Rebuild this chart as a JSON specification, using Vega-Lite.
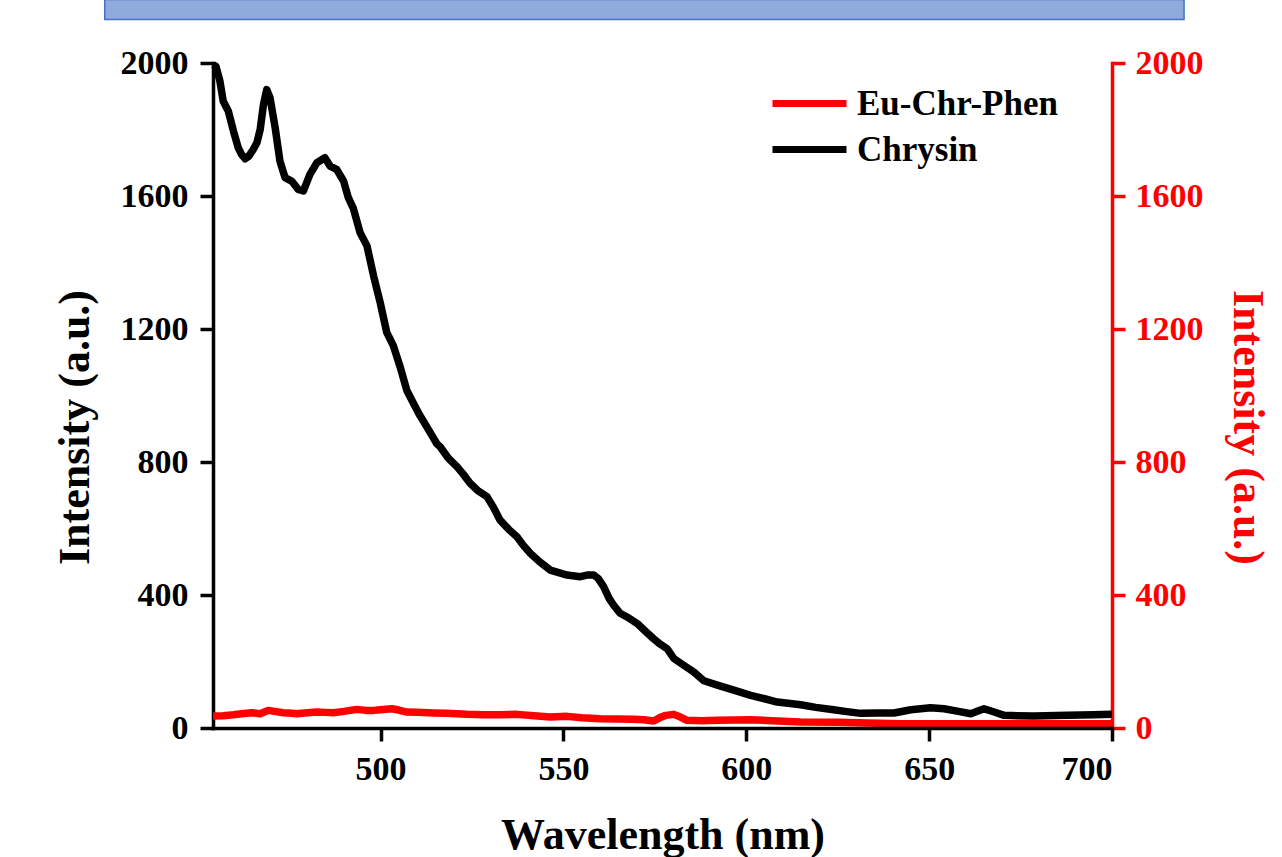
{
  "$schema": "https://vega.github.io/schema/vega-lite/v6.json",
  "width": 899,
  "height": 665,
  "autosize": {"type": "none"},
  "padding": {"left": 213, "top": 63, "right": 170, "bottom": 129},
  "background": "white",
  "config": {
    "view": {"stroke": null},
    "font": "Liberation Serif",
    "axis": {
      "grid": false,
      "labelFont": "Liberation Serif",
      "labelFontWeight": "bold",
      "labelFontSize": 34,
      "titleFont": "Liberation Serif",
      "titleFontWeight": "bold",
      "titleFontSize": 44,
      "domainWidth": 3.5,
      "tickWidth": 3.5,
      "tickSize": 13,
      "domainCap": "square",
      "format": "d"
    }
  },
  "datasets": {
    "spectra": [
      {"series": "Chrysin", "wavelength": 454.2, "intensity": 1995},
      {"series": "Chrysin", "wavelength": 455.0, "intensity": 1990},
      {"series": "Chrysin", "wavelength": 456.1, "intensity": 1945},
      {"series": "Chrysin", "wavelength": 457.0, "intensity": 1885},
      {"series": "Chrysin", "wavelength": 458.4, "intensity": 1855},
      {"series": "Chrysin", "wavelength": 459.8, "intensity": 1795},
      {"series": "Chrysin", "wavelength": 461.1, "intensity": 1745},
      {"series": "Chrysin", "wavelength": 462.0, "intensity": 1725},
      {"series": "Chrysin", "wavelength": 463.0, "intensity": 1712},
      {"series": "Chrysin", "wavelength": 464.0, "intensity": 1720},
      {"series": "Chrysin", "wavelength": 465.2, "intensity": 1740},
      {"series": "Chrysin", "wavelength": 466.2, "intensity": 1760},
      {"series": "Chrysin", "wavelength": 467.1, "intensity": 1800},
      {"series": "Chrysin", "wavelength": 468.0, "intensity": 1875},
      {"series": "Chrysin", "wavelength": 468.9, "intensity": 1920},
      {"series": "Chrysin", "wavelength": 469.8, "intensity": 1895},
      {"series": "Chrysin", "wavelength": 470.5, "intensity": 1850},
      {"series": "Chrysin", "wavelength": 471.2, "intensity": 1805},
      {"series": "Chrysin", "wavelength": 472.5, "intensity": 1705},
      {"series": "Chrysin", "wavelength": 473.9, "intensity": 1655},
      {"series": "Chrysin", "wavelength": 475.7, "intensity": 1645},
      {"series": "Chrysin", "wavelength": 477.5, "intensity": 1620},
      {"series": "Chrysin", "wavelength": 478.9, "intensity": 1615},
      {"series": "Chrysin", "wavelength": 480.7, "intensity": 1665},
      {"series": "Chrysin", "wavelength": 482.6, "intensity": 1700},
      {"series": "Chrysin", "wavelength": 484.8, "intensity": 1715},
      {"series": "Chrysin", "wavelength": 486.2, "intensity": 1690},
      {"series": "Chrysin", "wavelength": 488.0, "intensity": 1680},
      {"series": "Chrysin", "wavelength": 489.9, "intensity": 1645},
      {"series": "Chrysin", "wavelength": 491.2, "intensity": 1595},
      {"series": "Chrysin", "wavelength": 492.6, "intensity": 1562},
      {"series": "Chrysin", "wavelength": 494.4, "intensity": 1490},
      {"series": "Chrysin", "wavelength": 496.3, "intensity": 1450},
      {"series": "Chrysin", "wavelength": 498.1, "intensity": 1360},
      {"series": "Chrysin", "wavelength": 499.9, "intensity": 1280},
      {"series": "Chrysin", "wavelength": 501.7, "intensity": 1190},
      {"series": "Chrysin", "wavelength": 503.5, "intensity": 1150},
      {"series": "Chrysin", "wavelength": 505.4, "intensity": 1085},
      {"series": "Chrysin", "wavelength": 507.2, "intensity": 1015},
      {"series": "Chrysin", "wavelength": 509.0, "intensity": 977},
      {"series": "Chrysin", "wavelength": 510.5, "intensity": 945},
      {"series": "Chrysin", "wavelength": 512.7, "intensity": 905},
      {"series": "Chrysin", "wavelength": 515.4, "intensity": 855},
      {"series": "Chrysin", "wavelength": 516.3, "intensity": 846},
      {"series": "Chrysin", "wavelength": 518.5, "intensity": 812},
      {"series": "Chrysin", "wavelength": 520.9, "intensity": 786},
      {"series": "Chrysin", "wavelength": 522.5, "intensity": 765},
      {"series": "Chrysin", "wavelength": 524.5, "intensity": 736},
      {"series": "Chrysin", "wavelength": 526.5, "intensity": 715},
      {"series": "Chrysin", "wavelength": 529.1, "intensity": 696},
      {"series": "Chrysin", "wavelength": 530.8, "intensity": 665},
      {"series": "Chrysin", "wavelength": 532.7, "intensity": 625},
      {"series": "Chrysin", "wavelength": 535.0, "intensity": 598},
      {"series": "Chrysin", "wavelength": 537.3, "intensity": 575},
      {"series": "Chrysin", "wavelength": 539.0, "intensity": 550},
      {"series": "Chrysin", "wavelength": 541.0, "intensity": 525},
      {"series": "Chrysin", "wavelength": 543.5, "intensity": 500},
      {"series": "Chrysin", "wavelength": 546.4, "intensity": 475},
      {"series": "Chrysin", "wavelength": 548.5, "intensity": 468},
      {"series": "Chrysin", "wavelength": 551.0, "intensity": 460},
      {"series": "Chrysin", "wavelength": 554.6, "intensity": 455},
      {"series": "Chrysin", "wavelength": 556.5, "intensity": 460},
      {"series": "Chrysin", "wavelength": 558.3, "intensity": 460},
      {"series": "Chrysin", "wavelength": 559.5, "intensity": 450},
      {"series": "Chrysin", "wavelength": 561.0, "intensity": 425},
      {"series": "Chrysin", "wavelength": 562.5, "intensity": 390},
      {"series": "Chrysin", "wavelength": 563.7, "intensity": 370},
      {"series": "Chrysin", "wavelength": 565.5, "intensity": 345},
      {"series": "Chrysin", "wavelength": 567.4, "intensity": 334},
      {"series": "Chrysin", "wavelength": 570.2, "intensity": 314},
      {"series": "Chrysin", "wavelength": 572.5, "intensity": 290},
      {"series": "Chrysin", "wavelength": 574.7, "intensity": 268},
      {"series": "Chrysin", "wavelength": 576.5, "intensity": 252},
      {"series": "Chrysin", "wavelength": 578.4, "intensity": 238},
      {"series": "Chrysin", "wavelength": 580.2, "intensity": 209},
      {"series": "Chrysin", "wavelength": 583.0, "intensity": 188},
      {"series": "Chrysin", "wavelength": 585.6, "intensity": 169},
      {"series": "Chrysin", "wavelength": 588.4, "intensity": 142},
      {"series": "Chrysin", "wavelength": 592.1, "intensity": 129},
      {"series": "Chrysin", "wavelength": 596.6, "intensity": 114},
      {"series": "Chrysin", "wavelength": 601.2, "intensity": 98},
      {"series": "Chrysin", "wavelength": 605.0, "intensity": 88},
      {"series": "Chrysin", "wavelength": 608.5, "intensity": 78},
      {"series": "Chrysin", "wavelength": 614.9, "intensity": 70},
      {"series": "Chrysin", "wavelength": 619.0, "intensity": 62},
      {"series": "Chrysin", "wavelength": 623.9, "intensity": 55},
      {"series": "Chrysin", "wavelength": 627.0, "intensity": 50},
      {"series": "Chrysin", "wavelength": 631.3, "intensity": 44},
      {"series": "Chrysin", "wavelength": 636.0, "intensity": 45},
      {"series": "Chrysin", "wavelength": 640.4, "intensity": 45},
      {"series": "Chrysin", "wavelength": 645.0, "intensity": 55},
      {"series": "Chrysin", "wavelength": 650.4, "intensity": 61},
      {"series": "Chrysin", "wavelength": 654.1, "intensity": 58},
      {"series": "Chrysin", "wavelength": 658.0, "intensity": 50},
      {"series": "Chrysin", "wavelength": 661.4, "intensity": 43},
      {"series": "Chrysin", "wavelength": 663.5, "intensity": 52},
      {"series": "Chrysin", "wavelength": 665.0, "intensity": 58},
      {"series": "Chrysin", "wavelength": 667.8, "intensity": 48},
      {"series": "Chrysin", "wavelength": 670.5, "intensity": 38},
      {"series": "Chrysin", "wavelength": 678.7, "intensity": 36},
      {"series": "Chrysin", "wavelength": 687.8, "intensity": 38},
      {"series": "Chrysin", "wavelength": 695.0, "intensity": 40},
      {"series": "Chrysin", "wavelength": 700.0, "intensity": 41},
      {"series": "Eu-Chr-Phen", "wavelength": 454.2, "intensity": 36},
      {"series": "Eu-Chr-Phen", "wavelength": 457.0, "intensity": 37},
      {"series": "Eu-Chr-Phen", "wavelength": 459.8, "intensity": 40},
      {"series": "Eu-Chr-Phen", "wavelength": 462.0, "intensity": 43},
      {"series": "Eu-Chr-Phen", "wavelength": 464.8, "intensity": 46},
      {"series": "Eu-Chr-Phen", "wavelength": 467.1, "intensity": 43},
      {"series": "Eu-Chr-Phen", "wavelength": 469.3, "intensity": 53},
      {"series": "Eu-Chr-Phen", "wavelength": 471.0, "intensity": 50},
      {"series": "Eu-Chr-Phen", "wavelength": 473.4, "intensity": 46},
      {"series": "Eu-Chr-Phen", "wavelength": 475.0, "intensity": 45},
      {"series": "Eu-Chr-Phen", "wavelength": 477.1, "intensity": 43},
      {"series": "Eu-Chr-Phen", "wavelength": 480.0, "intensity": 46},
      {"series": "Eu-Chr-Phen", "wavelength": 482.6, "intensity": 48},
      {"series": "Eu-Chr-Phen", "wavelength": 485.0, "intensity": 47},
      {"series": "Eu-Chr-Phen", "wavelength": 487.1, "intensity": 46},
      {"series": "Eu-Chr-Phen", "wavelength": 490.0, "intensity": 50},
      {"series": "Eu-Chr-Phen", "wavelength": 493.5, "intensity": 56},
      {"series": "Eu-Chr-Phen", "wavelength": 496.0, "intensity": 53},
      {"series": "Eu-Chr-Phen", "wavelength": 498.1, "intensity": 53},
      {"series": "Eu-Chr-Phen", "wavelength": 500.0, "intensity": 55},
      {"series": "Eu-Chr-Phen", "wavelength": 503.1, "intensity": 58},
      {"series": "Eu-Chr-Phen", "wavelength": 505.0, "intensity": 54},
      {"series": "Eu-Chr-Phen", "wavelength": 507.2, "intensity": 48},
      {"series": "Eu-Chr-Phen", "wavelength": 510.0, "intensity": 47},
      {"series": "Eu-Chr-Phen", "wavelength": 514.5, "intensity": 45},
      {"series": "Eu-Chr-Phen", "wavelength": 518.0, "intensity": 44},
      {"series": "Eu-Chr-Phen", "wavelength": 523.6, "intensity": 41},
      {"series": "Eu-Chr-Phen", "wavelength": 528.0, "intensity": 40},
      {"series": "Eu-Chr-Phen", "wavelength": 532.7, "intensity": 40},
      {"series": "Eu-Chr-Phen", "wavelength": 537.3, "intensity": 41},
      {"series": "Eu-Chr-Phen", "wavelength": 542.0, "intensity": 37},
      {"series": "Eu-Chr-Phen", "wavelength": 546.4, "intensity": 33},
      {"series": "Eu-Chr-Phen", "wavelength": 551.0, "intensity": 35},
      {"series": "Eu-Chr-Phen", "wavelength": 555.0, "intensity": 31},
      {"series": "Eu-Chr-Phen", "wavelength": 560.1, "intensity": 28},
      {"series": "Eu-Chr-Phen", "wavelength": 565.0, "intensity": 27},
      {"series": "Eu-Chr-Phen", "wavelength": 569.2, "intensity": 26},
      {"series": "Eu-Chr-Phen", "wavelength": 572.0, "intensity": 25},
      {"series": "Eu-Chr-Phen", "wavelength": 574.7, "intensity": 21},
      {"series": "Eu-Chr-Phen", "wavelength": 576.5, "intensity": 32},
      {"series": "Eu-Chr-Phen", "wavelength": 578.0, "intensity": 38},
      {"series": "Eu-Chr-Phen", "wavelength": 580.2, "intensity": 41},
      {"series": "Eu-Chr-Phen", "wavelength": 582.0, "intensity": 33},
      {"series": "Eu-Chr-Phen", "wavelength": 583.8, "intensity": 23},
      {"series": "Eu-Chr-Phen", "wavelength": 588.0, "intensity": 22},
      {"series": "Eu-Chr-Phen", "wavelength": 592.1, "intensity": 23},
      {"series": "Eu-Chr-Phen", "wavelength": 601.2, "intensity": 25},
      {"series": "Eu-Chr-Phen", "wavelength": 607.0, "intensity": 22},
      {"series": "Eu-Chr-Phen", "wavelength": 614.9, "intensity": 18},
      {"series": "Eu-Chr-Phen", "wavelength": 625.0, "intensity": 17},
      {"series": "Eu-Chr-Phen", "wavelength": 633.1, "intensity": 15},
      {"series": "Eu-Chr-Phen", "wavelength": 642.2, "intensity": 13},
      {"series": "Eu-Chr-Phen", "wavelength": 660.0, "intensity": 13},
      {"series": "Eu-Chr-Phen", "wavelength": 680.0, "intensity": 13},
      {"series": "Eu-Chr-Phen", "wavelength": 700.0, "intensity": 13}
    ]
  },
  "data": {"name": "spectra"},
  "layer": [
    {
      "mark": {"type": "line", "strokeWidth": 7.5, "strokeJoin": "round", "strokeCap": "butt"},
      "transform": [{"filter": "datum.series === 'Eu-Chr-Phen'"}],
      "encoding": {
        "x": {
          "field": "wavelength", "type": "quantitative",
          "scale": {"domain": [454.2, 700], "nice": false, "zero": false},
          "axis": {"values": [500, 550, 600, 650, 700], "title": "Wavelength (nm)", "labelPadding": 11, "titlePadding": 27, "domainColor": "#000000", "tickColor": "#000000", "labelColor": "#000000", "titleColor": "#000000", "zindex": 1}
        },
        "y": {
          "field": "intensity", "type": "quantitative",
          "scale": {"domain": [0, 2000], "nice": false},
          "axis": {"orient": "right", "values": [0, 400, 800, 1200, 1600, 2000], "title": "Intensity (a.u.)", "domainColor": "#ff0000", "tickColor": "#ff0000", "labelColor": "#ff0000", "titleColor": "#ff0000", "labelPadding": 10, "titlePadding": 21, "titleY": 364}
        },
        "color": {
          "field": "series", "type": "nominal",
          "scale": {"domain": ["Eu-Chr-Phen", "Chrysin"], "range": ["#ff0000", "#000000"]},
          "legend": {"title": null, "orient": "none", "legendX": 574.5, "legendY": 18.5, "padding": 0, "symbolType": "M-2,0H2", "symbolStrokeWidth": 7, "symbolSize": 1369, "labelFont": "Liberation Serif", "labelFontWeight": "bold", "labelFontSize": 35, "labelColor": "#000000", "labelOffset": 25.5, "labelLimit": 400, "rowPadding": 6}
        }
      }
    },
    {
      "mark": {"type": "line", "strokeWidth": 7.5, "strokeJoin": "round", "strokeCap": "butt"},
      "transform": [{"filter": "datum.series === 'Chrysin'"}],
      "encoding": {
        "x": {"field": "wavelength", "type": "quantitative"},
        "y": {
          "field": "intensity", "type": "quantitative",
          "scale": {"domain": [0, 2000], "nice": false},
          "axis": {"orient": "left", "values": [0, 400, 800, 1200, 1600, 2000], "title": "Intensity (a.u.)", "domainColor": "#000000", "tickColor": "#000000", "labelColor": "#000000", "titleColor": "#000000", "labelPadding": 12, "titlePadding": 23, "titleY": 364}
        },
        "color": {"field": "series", "type": "nominal"}
      }
    },
    {
      "data": {"values": [{}]},
      "mark": {"type": "rect", "fill": "#8FAADC", "stroke": "#4472C4", "strokeWidth": 1.5},
      "encoding": {
        "x": {"datum": 424.6, "type": "quantitative"},
        "x2": {"datum": 719.7},
        "y": {"datum": 2191, "type": "quantitative", "scale": {"domain": [0, 2000], "nice": false}, "axis": null},
        "y2": {"datum": 2131}
      }
    }
  ],
  "resolve": {"scale": {"y": "independent"}}
}
